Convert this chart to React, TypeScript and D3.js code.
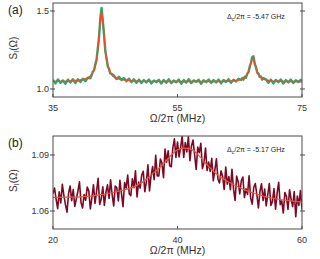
import * as d3 from 'd3';
import * as React from 'react';

const width = 320;
const height = 259;
const left = 53;
const right = 302;
const font = '"Liberation Sans", Arial, sans-serif';

// panel (a): measured spectrum, [MHz, S_I]
const traceA: [number, number][] = [
  [35.0, 1.058], [35.4, 1.036], [35.8, 1.061], [36.2, 1.04], [36.6, 1.055], [37.0, 1.034],
  [37.4, 1.06], [37.8, 1.042], [38.2, 1.063], [38.6, 1.038], [39.0, 1.062], [39.4, 1.045],
  [39.8, 1.066], [40.2, 1.05], [40.6, 1.072], [41.0, 1.068],
  [41.2, 1.088], [41.4, 1.112], [41.6, 1.12], [41.8, 1.158], [42.0, 1.188], [42.2, 1.262],
  [42.4, 1.335], [42.6, 1.452], [42.8, 1.52], [43.0, 1.438], [43.2, 1.348], [43.4, 1.245],
  [43.6, 1.198], [43.8, 1.146], [44.0, 1.13], [44.2, 1.1], [44.4, 1.098],
  [44.8, 1.085], [45.2, 1.064], [45.6, 1.078], [46.0, 1.058], [46.4, 1.07], [46.8, 1.05],
  [47.2, 1.066], [47.6, 1.044], [48.0, 1.062], [48.4, 1.04], [48.8, 1.06], [49.2, 1.038],
  [49.6, 1.057], [50.0, 1.042], [50.4, 1.061], [50.8, 1.036], [51.2, 1.055], [51.6, 1.045],
  [52.0, 1.059], [52.4, 1.035], [52.8, 1.058], [53.2, 1.04], [53.6, 1.062], [54.0, 1.037],
  [54.4, 1.054], [54.8, 1.043], [55.2, 1.06], [55.6, 1.034], [56.0, 1.057], [56.4, 1.041],
  [56.8, 1.063], [57.2, 1.038], [57.6, 1.055], [58.0, 1.046], [58.4, 1.059], [58.8, 1.033],
  [59.2, 1.056], [59.6, 1.044], [60.0, 1.061], [60.4, 1.039], [60.8, 1.057], [61.2, 1.042],
  [61.6, 1.06], [62.0, 1.036], [62.4, 1.058], [62.8, 1.045], [63.2, 1.062], [63.6, 1.04],
  [64.0, 1.059], [64.4, 1.048], [64.8, 1.066], [65.2, 1.058],
  [65.4, 1.07], [65.6, 1.06], [65.8, 1.078], [66.0, 1.072], [66.2, 1.098], [66.4, 1.108],
  [66.6, 1.145], [66.8, 1.166], [67.0, 1.204], [67.2, 1.21], [67.4, 1.162], [67.6, 1.142],
  [67.8, 1.106], [68.0, 1.1], [68.2, 1.078], [68.4, 1.08], [68.6, 1.06], [68.8, 1.07],
  [69.2, 1.062], [69.6, 1.04], [70.0, 1.06], [70.4, 1.036], [70.8, 1.058], [71.2, 1.044],
  [71.6, 1.061], [72.0, 1.035], [72.4, 1.057], [72.8, 1.042], [73.2, 1.06], [73.6, 1.038],
  [74.0, 1.056], [74.4, 1.045], [74.8, 1.059], [75.0, 1.041],
];

// panel (a): fitted curve
const fitA: [number, number][] = [
  [35, 1.049], [38, 1.052], [40, 1.063], [41, 1.084], [41.2, 1.094], [41.4, 1.106],
  [41.6, 1.124], [41.8, 1.151], [42, 1.191], [42.2, 1.251], [42.4, 1.34], [42.6, 1.443],
  [42.8, 1.496], [43, 1.443], [43.2, 1.34], [43.4, 1.251], [43.6, 1.191], [43.8, 1.151],
  [44, 1.124], [44.2, 1.106], [44.4, 1.094], [44.6, 1.084], [45.6, 1.063], [47.6, 1.052],
  [50.6, 1.049], [55, 1.048], [60, 1.048], [63, 1.05], [64.5, 1.054], [65.4, 1.063],
  [65.6, 1.067], [65.8, 1.073], [66, 1.082], [66.2, 1.094], [66.4, 1.112], [66.6, 1.137],
  [66.8, 1.17], [67, 1.197], [67.2, 1.197], [67.4, 1.17], [67.6, 1.137], [67.8, 1.112],
  [68, 1.094], [68.2, 1.082], [68.4, 1.073], [68.6, 1.067], [68.8, 1.063], [69.7, 1.054],
  [71, 1.05], [75, 1.048],
];

const ticksXA = [35, 55, 75];
const ticksYA = [1.0, 1.5];

// panel (b): measured spectrum, sampled every 0.25 MHz from 20 MHz
const traceBStart = 20;
const traceBStep = 0.25;
const traceB = [
  1.0693, 1.0723, 1.0663, 1.0613, 1.0703, 1.0643, 1.0743, 1.0683,
  1.0634, 1.0594, 1.0694, 1.0734, 1.0655, 1.0715, 1.0625, 1.0665,
  1.0706, 1.0756, 1.0646, 1.0616, 1.0688, 1.0658, 1.0728, 1.0708,
  1.0611, 1.0671, 1.0741, 1.0641, 1.0705, 1.0775, 1.0635, 1.0665,
  1.073, 1.063, 1.07, 1.074, 1.0667, 1.0767, 1.0687, 1.0627,
  1.0734, 1.0724, 1.0654, 1.0764, 1.0693, 1.0623, 1.0753, 1.0723,
  1.0792, 1.0692, 1.0682, 1.0772, 1.0725, 1.0815, 1.0675, 1.0755,
  1.0723, 1.0793, 1.0813, 1.0703, 1.0758, 1.0848, 1.0708, 1.0788,
  1.0838, 1.0768, 1.0898, 1.0788, 1.0788, 1.0878, 1.0858, 1.0778,
  1.0932, 1.0862, 1.0922, 1.0842, 1.0837, 1.0937, 1.0987, 1.0887,
  1.097, 1.089, 1.094, 1.1, 1.0887, 1.0967, 1.0917, 1.0997,
  1.087, 1.095, 1.098, 1.09, 1.0823, 1.0943, 1.0913, 1.0963,
  1.0827, 1.0857, 1.0937, 1.0817, 1.0862, 1.0812, 1.0882, 1.0762,
  1.082, 1.088, 1.077, 1.075, 1.0815, 1.0785, 1.0715, 1.0835,
  1.0744, 1.0784, 1.0714, 1.0824, 1.0717, 1.0657, 1.0787, 1.0757,
  1.0692, 1.0762, 1.0782, 1.0672, 1.0719, 1.0689, 1.0789, 1.0669,
  1.0637, 1.0727, 1.0747, 1.0687, 1.0616, 1.0706, 1.0746, 1.0656,
  1.0717, 1.0627, 1.0687, 1.0747, 1.063, 1.065, 1.072, 1.061,
  1.0694, 1.0754, 1.0634, 1.0654, 1.0589, 1.0699, 1.0679, 1.0609,
  1.0714, 1.0664, 1.0624, 1.0704, 1.057, 1.068, 1.063, 1.071,
  1.0608,
];

// panel (b): fitted curve
const fitB: [number, number][] = [
  [20, 1.0673], [22, 1.0674], [25, 1.0677], [28, 1.0689], [30.7, 1.0707], [33.4, 1.0736],
  [35, 1.077], [36.1, 1.0803], [37.7, 1.085], [39, 1.09], [40, 1.0928], [41, 1.0937],
  [42.1, 1.0933], [43.2, 1.0905], [44.2, 1.0868], [45.2, 1.0832], [46.3, 1.0797],
  [48.5, 1.075], [50.6, 1.0716], [52.8, 1.069], [54.9, 1.0671], [57.5, 1.0657], [60, 1.0648],
];

const ticksXB = [20, 40, 60];
const ticksYB = [1.06, 1.09];

type PanelProps = {
  id: string;
  top: number;
  bottom: number;
  xDomain: [number, number];
  yDomain: [number, number];
  xTicks: number[];
  yTicks: number[];
  yFormat: string;
  label: string;
  detuning: string;
  trace: [number, number][];
  fit: [number, number][];
  traceColor: string;
  traceWidth: number;
  fitColor: string;
  fitWidth: number;
};

const Panel = (p: PanelProps) => {
  const x = d3.scaleLinear().domain(p.xDomain).range([left, right]);
  const y = d3.scaleLinear().domain(p.yDomain).range([p.bottom, p.top]);
  const raw = d3
    .line<[number, number]>()
    .x(d => x(d[0]))
    .y(d => y(d[1]));
  const smooth = d3
    .line<[number, number]>()
    .x(d => x(d[0]))
    .y(d => y(d[1]))
    .curve(d3.curveMonotoneX);
  const fmt = d3.format(p.yFormat);
  const midY = (p.top + p.bottom) / 2;
  const axis = '#4a4a4a';

  return (
    <g>
      <defs>
        <clipPath id={p.id}>
          <rect x={left} y={p.top} width={right - left} height={p.bottom - p.top} />
        </clipPath>
      </defs>
      <g clipPath={`url(#${p.id})`}>
        <path
          d={raw(p.trace) || ''}
          fill="none"
          stroke={p.traceColor}
          strokeWidth={p.traceWidth}
          strokeLinejoin="round"
        />
        <path d={smooth(p.fit) || ''} fill="none" stroke={p.fitColor} strokeWidth={p.fitWidth} />
      </g>
      <rect
        x={left}
        y={p.top}
        width={right - left}
        height={p.bottom - p.top}
        fill="none"
        stroke={axis}
        strokeWidth={1}
      />
      {p.yTicks.map(t => (
        <g key={t}>
          <line x1={left - 3} x2={left + 2} y1={y(t)} y2={y(t)} stroke={axis} />
          <line x1={right - 2} x2={right + 3} y1={y(t)} y2={y(t)} stroke={axis} />
          <text
            x={left - 4}
            y={y(t)}
            dy="0.35em"
            textAnchor="end"
            fontSize={9}
            fill="#333"
            fontFamily={font}
          >
            {fmt(t)}
          </text>
        </g>
      ))}
      {p.xTicks.map(t => (
        <g key={t}>
          <line x1={x(t)} x2={x(t)} y1={p.bottom} y2={p.bottom - 3} stroke={axis} />
          <text
            x={x(t)}
            y={p.bottom + 11}
            dy="0.35em"
            textAnchor="middle"
            fontSize={9}
            fill="#333"
            fontFamily={font}
          >
            {t}
          </text>
        </g>
      ))}
      <text
        x={(left + right) / 2}
        y={p.bottom + 21.5}
        dy="0.35em"
        textAnchor="middle"
        fontSize={10.5}
        fill="#333"
        fontFamily={font}
      >
        Ω/2π (MHz)
      </text>
      <text
        transform={`translate(17,${midY - 2}) rotate(-90)`}
        textAnchor="middle"
        fontSize={10}
        fill="#333"
        fontFamily={font}
      >
        S<tspan dy={2} fontSize={7}>I</tspan>
        <tspan dy={-2}>(Ω)</tspan>
      </text>
      <text x={8} y={p.top + 11} fontSize={12} fill="#222" fontFamily={font}>
        {p.label}
      </text>
      <text x={227} y={p.top + 16} fontSize={7} fill="#222" fontFamily={font}>
        Δ<tspan dy={2} fontSize={5}>c</tspan>
        <tspan dy={-2}>{`/2π = ${p.detuning} GHz`}</tspan>
      </text>
    </g>
  );
};

export default () => {
  const traceBPoints: [number, number][] = traceB.map((v, i) => [
    traceBStart + i * traceBStep,
    v,
  ]);

  return (
    <svg
      width={width}
      height={height}
      viewBox={`0 0 ${width} ${height}`}
      style={{ position: 'absolute', left: 0, top: 0, background: '#fff' }}
    >
      <Panel
        id="clipA"
        top={3}
        bottom={97}
        xDomain={[35, 75]}
        yDomain={[0.9487, 1.5513]}
        xTicks={ticksXA}
        yTicks={ticksYA}
        yFormat=".1f"
        label="(a)"
        detuning="-5.47"
        trace={traceA}
        fit={fitA}
        traceColor="#35a465"
        traceWidth={2.4}
        fitColor="#e3522c"
        fitWidth={1.4}
      />
      <Panel
        id="clipB"
        top={136}
        bottom={229}
        xDomain={[20, 60]}
        yDomain={[1.05036, 1.10018]}
        xTicks={ticksXB}
        yTicks={ticksYB}
        yFormat=".2f"
        label="(b)"
        detuning="-5.17"
        trace={traceBPoints}
        fit={fitB}
        traceColor="#7a0924"
        traceWidth={1.6}
        fitColor="#e85a3c"
        fitWidth={1.2}
      />
    </svg>
  );
};
